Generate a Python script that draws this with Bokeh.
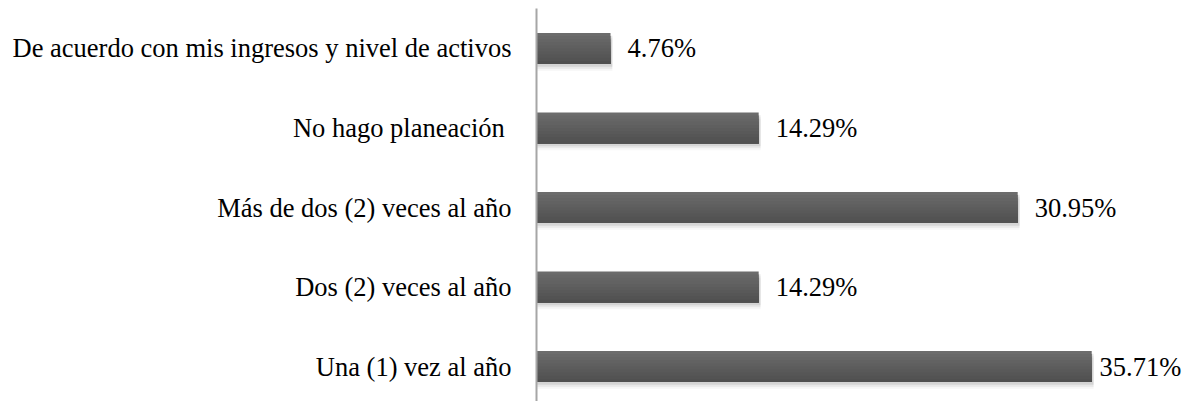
from bokeh.plotting import figure
from bokeh.models import Range1d, FixedTicker, ColumnDataSource
from bokeh.core.properties import value
from bokeh.embed import file_html
from bokeh.resources import INLINE

categories = ["Una (1) vez al año", "Dos (2) veces al año", "Más de dos (2) veces al año",
              "No hago planeación ", "De acuerdo con mis ingresos y nivel de activos"]
values = [35.71, 14.29, 30.95, 14.29, 4.76]
labels = ["35.71%", "14.29%", "30.95%", "14.29%", "4.76%"]

idx = list(range(len(categories)))
FONT = "'Liberation Serif', 'Times New Roman', serif"
FS = "26.5px"

W, H = 1189, 401
LEFT, TOP = 536, 8
XMAX = 42.0
frame_w = W - LEFT
scale = frame_w / XMAX

p = figure(width=W, height=H, output_backend="svg", toolbar_location=None,
           x_range=Range1d(0, XMAX), y_range=Range1d(-0.44, 4.503),
           min_border_left=LEFT, min_border_right=0, min_border_top=TOP, min_border_bottom=0)
p.outline_line_color = None
p.grid.visible = False
p.xaxis.visible = False
p.yaxis.ticker = FixedTicker(ticks=idx)
p.yaxis.major_label_overrides = {i: c for i, c in zip(idx, categories)}
p.yaxis.major_tick_line_color = None
p.yaxis.minor_tick_line_color = None
p.yaxis.axis_line_color = "#a6a6a6"
p.yaxis.axis_line_width = 2
p.yaxis.major_label_text_font = FONT
p.yaxis.major_label_text_font_size = FS
p.yaxis.major_label_text_color = "#000000"
p.yaxis.major_label_standoff = 19

# label offsets: keep labels inside the chart area
text_w = 85
offsets = [min(17, frame_w - 5 - v * scale - text_w) for v in values]

h = 0.39
src = ColumnDataSource(dict(y=idx, v=values, lab=labels, off=offsets))

# soft shadow
for dy, a in [(0.035, 0.18), (0.06, 0.12), (0.085, 0.07)]:
    p.hbar(y=[i - dy for i in idx], left=0, right=[v + 0.12 for v in values], height=h,
           fill_color="#808080", fill_alpha=a, line_color=None)

# gradient approximation: overlapping bands from light (top) to dark (bottom)
bands = ["#6c6c6c", "#686868", "#656565", "#626262", "#5f5f5f", "#5c5c5c",
         "#595959", "#565656", "#535353", "#505050"]
n = len(bands)
for k, col in enumerate(bands):
    span = h * (n - k) / n
    p.hbar(y=[i - h / 2 + span / 2 for i in idx], left=0, right=values, height=span,
           fill_color=col, line_color=None)

p.text(x="v", y="y", text="lab", source=src, x_offset="off", text_baseline="middle",
       text_align="left", text_font=value(FONT), text_font_size=FS, text_color="#000000")

open("out.html", "w").write(file_html(p, INLINE))
